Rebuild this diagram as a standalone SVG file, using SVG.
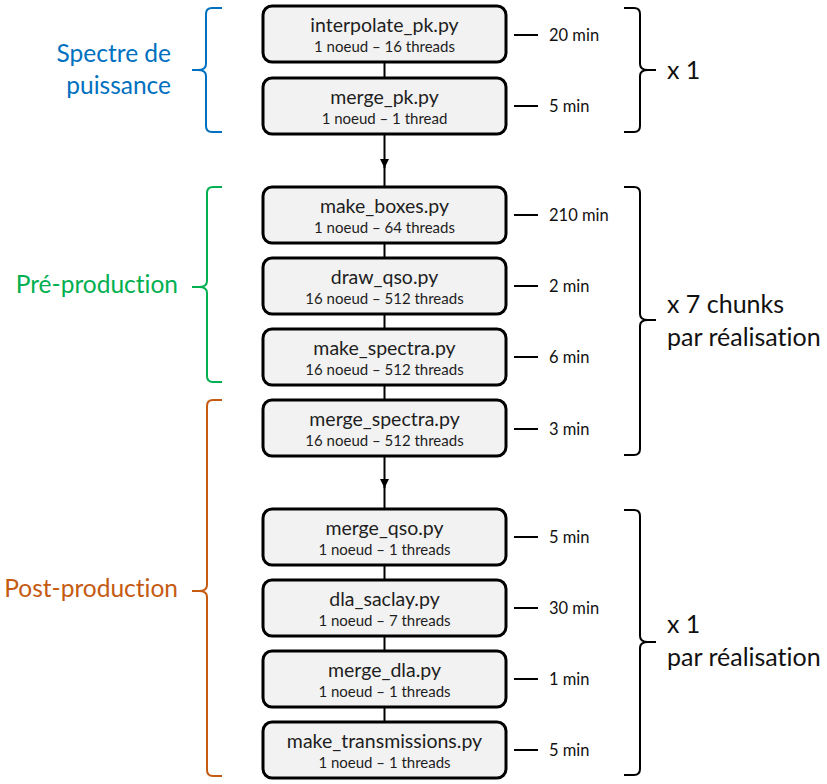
<svg xmlns="http://www.w3.org/2000/svg" width="827" height="784" viewBox="0 0 827 784">
<style>
text{font-family:Lato,"Open Sans",sans-serif;font-variant-ligatures:none}
.box{fill:#f2f2f2;stroke:#000;stroke-width:3}
.t1{font-size:19.5px;fill:#1e1e1e;text-anchor:middle}
.t2{font-size:15px;fill:#1e1e1e;text-anchor:middle}
.tm{font-size:16.5px;fill:#111}
.tick{stroke:#000;stroke-width:2}
.con{stroke:#000;stroke-width:2;fill:none}
.br{fill:none;stroke-width:2}
.lab{font-size:24.5px;text-anchor:end}
.rl{font-size:25px;fill:#111}
</style>
<defs>
<marker id="ah" viewBox="0 0 10 10" refX="10" refY="5" markerWidth="9" markerHeight="9" markerUnits="userSpaceOnUse" orient="auto">
<path d="M0,0 L10,5 L0,10 Z" fill="#000"/>
</marker>
</defs>
<rect width="827" height="784" fill="#fff"/>
<g id="connectors">
<line class="con" x1="384.5" y1="62" x2="384.5" y2="78"/>
<path class="con" d="M384.5,134 L384.5,168" marker-end="url(#ah)"/>
<line class="con" x1="384.5" y1="166" x2="384.5" y2="187"/>
<line class="con" x1="384.5" y1="243" x2="384.5" y2="258"/>
<line class="con" x1="384.5" y1="314" x2="384.5" y2="329"/>
<line class="con" x1="384.5" y1="385" x2="384.5" y2="400"/>
<path class="con" d="M384.5,456 L384.5,488" marker-end="url(#ah)"/>
<line class="con" x1="384.5" y1="486" x2="384.5" y2="509"/>
<line class="con" x1="384.5" y1="565" x2="384.5" y2="580"/>
<line class="con" x1="384.5" y1="636" x2="384.5" y2="651"/>
<line class="con" x1="384.5" y1="707" x2="384.5" y2="722"/>
</g>
<g id="n1"><rect class="box" x="263" y="6" width="243" height="56" rx="9"/><text class="t1" x="384.5" y="32">interpolate_pk.py</text><text class="t2" x="384.5" y="52">1 noeud – 16 threads</text><line class="tick" x1="514" y1="35" x2="538" y2="35"/><text class="tm" x="549" y="41">20 min</text></g>
<g id="n2"><rect class="box" x="263" y="78" width="243" height="56" rx="9"/><text class="t1" x="384.5" y="104">merge_pk.py</text><text class="t2" x="384.5" y="124">1 noeud – 1 thread</text><line class="tick" x1="514" y1="106" x2="538" y2="106"/><text class="tm" x="549" y="112">5 min</text></g>
<g id="n3"><rect class="box" x="263" y="187" width="243" height="56" rx="9"/><text class="t1" x="384.5" y="213">make_boxes.py</text><text class="t2" x="384.5" y="233">1 noeud – 64 threads</text><line class="tick" x1="514" y1="215" x2="538" y2="215"/><text class="tm" x="549" y="221">210 min</text></g>
<g id="n4"><rect class="box" x="263" y="258" width="243" height="56" rx="9"/><text class="t1" x="384.5" y="284">draw_qso.py</text><text class="t2" x="384.5" y="304">16 noeud – 512 threads</text><line class="tick" x1="514" y1="286" x2="538" y2="286"/><text class="tm" x="549" y="292">2 min</text></g>
<g id="n5"><rect class="box" x="263" y="329" width="243" height="56" rx="9"/><text class="t1" x="384.5" y="355">make_spectra.py</text><text class="t2" x="384.5" y="375">16 noeud – 512 threads</text><line class="tick" x1="514" y1="357" x2="538" y2="357"/><text class="tm" x="549" y="363">6 min</text></g>
<g id="n6"><rect class="box" x="263" y="400" width="243" height="56" rx="9"/><text class="t1" x="384.5" y="426">merge_spectra.py</text><text class="t2" x="384.5" y="446">16 noeud – 512 threads</text><line class="tick" x1="514" y1="429" x2="538" y2="429"/><text class="tm" x="549" y="435">3 min</text></g>
<g id="n7"><rect class="box" x="263" y="509" width="243" height="56" rx="9"/><text class="t1" x="384.5" y="535">merge_qso.py</text><text class="t2" x="384.5" y="555">1 noeud – 1 threads</text><line class="tick" x1="514" y1="537" x2="538" y2="537"/><text class="tm" x="549" y="543">5 min</text></g>
<g id="n8"><rect class="box" x="263" y="580" width="243" height="56" rx="9"/><text class="t1" x="384.5" y="606">dla_saclay.py</text><text class="t2" x="384.5" y="626">1 noeud – 7 threads</text><line class="tick" x1="514" y1="608" x2="538" y2="608"/><text class="tm" x="549" y="614">30 min</text></g>
<g id="n9"><rect class="box" x="263" y="651" width="243" height="56" rx="9"/><text class="t1" x="384.5" y="677">merge_dla.py</text><text class="t2" x="384.5" y="697">1 noeud – 1 threads</text><line class="tick" x1="514" y1="679" x2="538" y2="679"/><text class="tm" x="549" y="685">1 min</text></g>
<g id="n10"><rect class="box" x="263" y="722" width="243" height="56" rx="9"/><text class="t1" x="384.5" y="748">make_transmissions.py</text><text class="t2" x="384.5" y="768">1 noeud – 1 threads</text><line class="tick" x1="514" y1="750" x2="538" y2="750"/><text class="tm" x="549" y="756">5 min</text></g>
<g id="brace-spectre">
<path class="br" stroke="#0070C0" d="M222,8 L212,8 Q206,8 206,14 L206,64 Q206,70 198,70 L192,70 M198,70 Q206,70 206,76 L206,126 Q206,132 212,132 L222,132"/>
<text class="lab" fill="#0070C0" x="171" y="62">Spectre de</text>
<text class="lab" fill="#0070C0" x="171" y="94">puissance</text>
</g>
<g id="brace-pre">
<path class="br" stroke="#00B050" d="M222,187 L213,187 Q207,187 207,193 L207,281 Q207,287 199,287 L192,287 M199,287 Q207,287 207,293 L207,376 Q207,382 213,382 L222,382"/>
<text class="lab" fill="#00B050" x="178" y="293">Pré-production</text>
</g>
<g id="brace-post">
<path class="br" stroke="#C55A11" d="M222,400 L213,400 Q207,400 207,406 L207,585 Q207,591 199,591 L192,591 M199,591 Q207,591 207,597 L207,770 Q207,776 213,776 L222,776"/>
<text class="lab" fill="#C55A11" x="178" y="597">Post-production</text>
</g>
<g id="brace-r1">
<path class="br" stroke="#000" d="M624,8 L634,8 Q640,8 640,14 L640,64 Q640,70 648,70 L656,70 M648,70 Q640,70 640,76 L640,126 Q640,132 634,132 L624,132"/>
<text class="rl" x="667" y="79">x 1</text>
</g>
<g id="brace-r2">
<path class="br" stroke="#000" d="M624,187 L634,187 Q640,187 640,193 L640,314 Q640,320 648,320 L656,320 M648,320 Q640,320 640,326 L640,449 Q640,455 634,455 L624,455"/>
<text class="rl" x="667" y="313">x 7 chunks</text>
<text class="rl" x="667" y="346">par réalisation</text>
</g>
<g id="brace-r3">
<path class="br" stroke="#000" d="M624,510 L634,510 Q640,510 640,516 L640,636 Q640,642 648,642 L656,642 M648,642 Q640,642 640,648 L640,769 Q640,775 634,775 L624,775"/>
<text class="rl" x="667" y="633">x 1</text>
<text class="rl" x="667" y="666">par réalisation</text>
</g>
</svg>
